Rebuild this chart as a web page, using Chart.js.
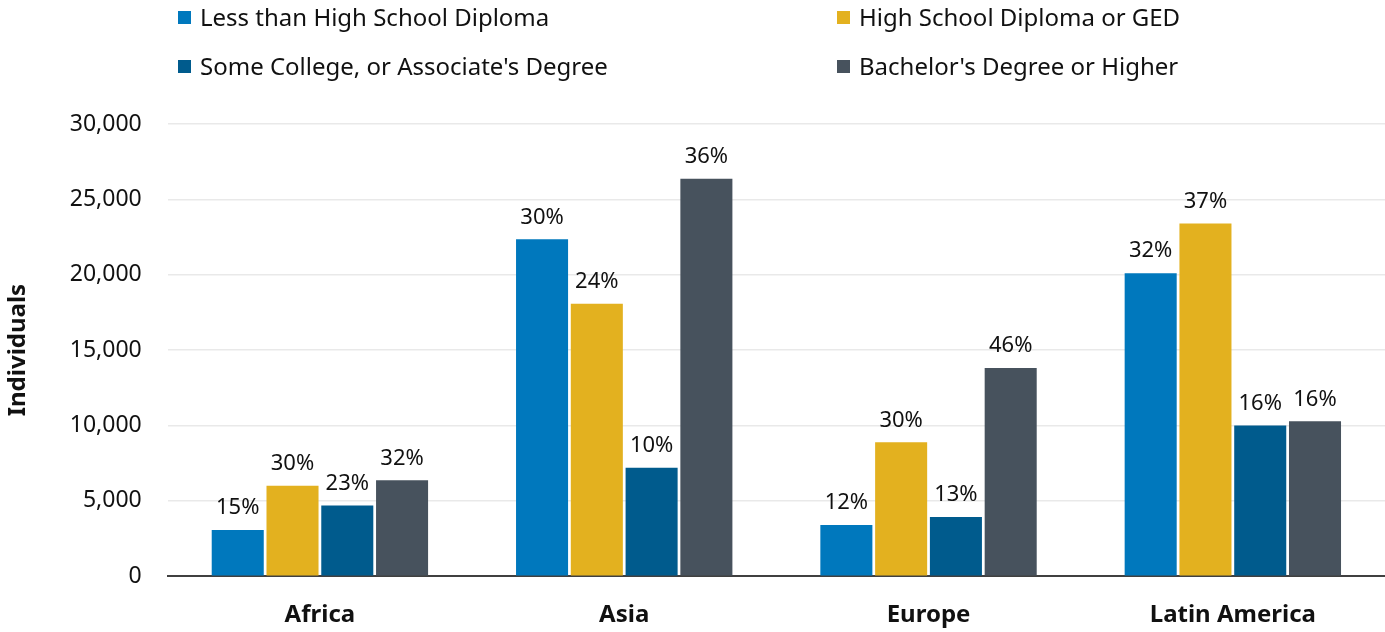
<!DOCTYPE html>
<html>
<head>
<meta charset="utf-8">
<script src="https://cdn.jsdelivr.net/npm/chart.js@4"></script>
<style>
  html, body { margin: 0; padding: 0; background: #fff; }
  #wrap { position: relative; width: 1385px; height: 632px; }
  canvas { position: absolute; left: 0; top: 0; }
  .lg { position: absolute; font-family: "Noto Sans", sans-serif; font-size: 24px; color: #111; white-space: nowrap; line-height: 1; }
  .lg i { display: inline-block; width: 13px; height: 13px; margin-right: 9px; vertical-align: 2px; }
</style>
</head>
<body>
<div id="wrap">
  <canvas id="eduChart" width="1385" height="632"></canvas>
  <div id="legend"></div>
</div>
<script>
// data
const regions = ['Africa', 'Asia', 'Europe', 'Latin America'];
const seriesNames = [
  'Less than High School Diploma',
  'High School Diploma or GED',
  "Some College, or Associate's Degree",
  "Bachelor's Degree or Higher"
];
const lessThanHS = [3070, 22350, 3400, 20100];
const hsOrGED = [6000, 18080, 8880, 23400];
const someCollege = [4690, 7190, 3930, 10000];
const bachelorPlus = [6360, 26360, 13820, 10280];

const pctLessThanHS = ['15%', '30%', '12%', '32%'];
const pctHsOrGED = ['30%', '24%', '30%', '37%'];
const pctSomeCollege = ['23%', '10%', '13%', '16%'];
const pctBachelorPlus = ['32%', '36%', '46%', '16%'];

const yTicks = [0, 5000, 10000, 15000, 20000, 25000, 30000];

const colors = ['#0078BD', '#E3B11F', '#005B8D', '#47525D'];
const values = [lessThanHS, hsOrGED, someCollege, bachelorPlus];
const pctLabels = [pctLessThanHS, pctHsOrGED, pctSomeCollege, pctBachelorPlus];

// legend in two columns, like the original
const legendPos = [
  { left: 178, top: 5 }, { left: 837, top: 5 },
  { left: 178, top: 54 }, { left: 837, top: 54 }
];
const legendEl = document.getElementById('legend');
seriesNames.forEach((name, i) => {
  const d = document.createElement('div');
  d.className = 'lg';
  d.style.left = legendPos[i].left + 'px';
  d.style.top = legendPos[i].top + 'px';
  d.innerHTML = '<i style="background:' + colors[i] + '"></i>' + name;
  legendEl.appendChild(d);
});

// draws the percent labels above each bar
const pctLabelPlugin = {
  id: 'pctLabels',
  afterDatasetsDraw(chart) {
    const ctx = chart.ctx;
    ctx.save();
    ctx.font = '22px "Noto Sans", sans-serif';
    ctx.fillStyle = '#111';
    ctx.textAlign = 'center';
    ctx.textBaseline = 'bottom';
    chart.data.datasets.forEach((ds, di) => {
      const meta = chart.getDatasetMeta(di);
      meta.data.forEach((bar, i) => {
        ctx.fillText(pctLabels[di][i], bar.x, bar.y - 11);
      });
    });
    ctx.restore();
  }
};

const ctx = document.getElementById('eduChart').getContext('2d');
new Chart(ctx, {
  type: 'bar',
  data: {
    labels: regions,
    datasets: seriesNames.map((name, i) => ({
      label: name,
      data: values[i],
      backgroundColor: colors[i],
      borderWidth: 0,
      barPercentage: 0.95,
      categoryPercentage: 0.72
    }))
  },
  options: {
    responsive: false,
    animation: false,
    layout: { padding: { top: 124, right: 0, left: 0, bottom: -15 } },
    plugins: {
      legend: { display: false },
      tooltip: { enabled: false }
    },
    scales: {
      x: {
        grid: { display: false },
        border: { display: true, color: '#404040', width: 2 },
        ticks: {
          color: '#111',
          padding: 17,
          font: { family: '"Noto Sans", sans-serif', size: 24, weight: 'bold' }
        }
      },
      y: {
        min: 0,
        max: 30000,
        afterBuildTicks: axis => { axis.ticks = yTicks.map(v => ({ value: v })); },
        grid: { color: '#E9E9E9', lineWidth: 1.5, drawTicks: false },
        border: { display: false },
        ticks: {
          color: '#111',
          padding: 26,
          font: { family: '"Noto Sans", sans-serif', size: 23 },
          callback: v => v.toLocaleString('en-US')
        },
        title: {
          display: true,
          text: 'Individuals',
          color: '#111',
          padding: { top: 4, bottom: 11 },
          font: { family: '"Noto Sans", sans-serif', size: 24, weight: 'bold' }
        }
      }
    }
  },
  plugins: [pctLabelPlugin]
});
</script>
</body>
</html>
